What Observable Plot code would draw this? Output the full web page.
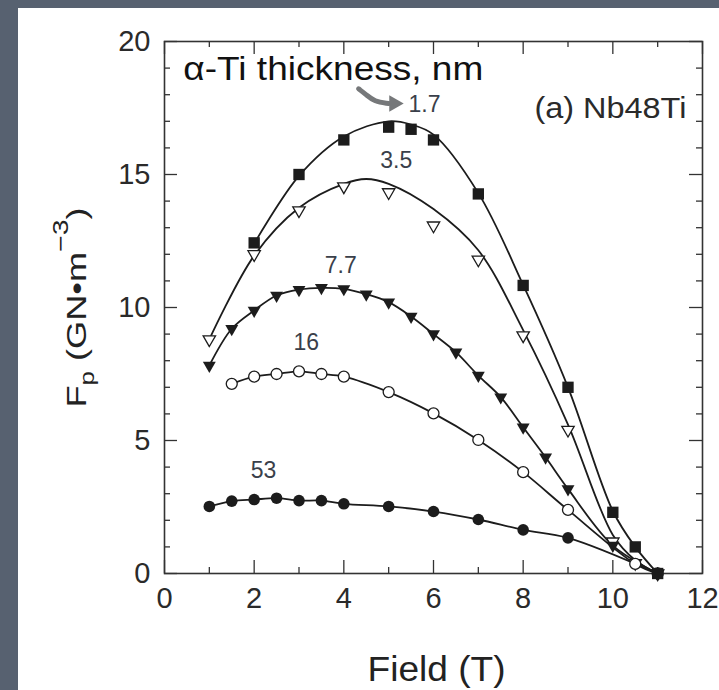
<!DOCTYPE html>
<html>
<head>
<meta charset="utf-8">
<script src="https://cdn.jsdelivr.net/npm/d3@7"></script>
<script src="https://cdn.jsdelivr.net/npm/@observablehq/plot@0.6"></script>
<style>
  html, body { margin: 0; padding: 0; background: #576170; width: 719px; height: 690px; overflow: hidden; }
  #panel { position: absolute; left: 18px; top: 8px; width: 701px; height: 682px; background: #ffffff; }
  #panel svg { display: block; }
</style>
</head>
<body>
<div id="panel"></div>
<script>
// ---- data ----
// α-Ti thickness 1.7 nm (filled squares)
const field17 = [2, 3, 4, 5, 5.5, 6, 7, 8, 9, 10, 10.5, 11];
const fp17    = [12.43, 15.0, 16.3, 16.78, 16.7, 16.3, 14.27, 10.83, 7.0, 2.3, 1.0, 0];
// fitted curve through 1.7 nm data
const fitField17 = [2, 3, 4, 5, 5.5, 6, 7, 8, 9, 10, 10.5, 11];
const fitFp17    = [12.4, 14.95, 16.43, 17.0, 16.88, 16.5, 14.3, 10.85, 7.0, 2.35, 1.0, 0];

// 3.5 nm (open down triangles)
const field35 = [1, 2, 3, 4, 5, 6, 7, 8, 9, 10, 10.5, 11];
const fp35    = [8.8, 12.0, 13.65, 14.55, 14.33, 13.08, 11.8, 8.95, 5.4, 1.2, 0.39, 0];
const fitField35 = [1, 2, 3, 4, 4.5, 5, 6, 7, 8, 9, 10, 10.5, 11];
const fitFp35    = [8.8, 11.95, 13.75, 14.65, 14.83, 14.65, 13.7, 12.15, 9.15, 5.6, 1.45, 0.5, 0];

// 7.7 nm (filled down triangles)
const field77 = [1, 1.5, 2, 2.5, 3, 3.5, 4, 4.5, 5, 5.5, 6, 6.5, 7, 7.5, 8, 8.5, 9, 10, 11];
const fp77    = [7.82, 9.2, 9.89, 10.45, 10.67, 10.74, 10.7, 10.5, 10.2, 9.66, 9.0, 8.32, 7.44, 6.63, 5.5, 4.37, 3.18, 1.05, 0];

// 16 nm (open circles)
const field16 = [1.5, 2, 2.5, 3, 3.5, 4, 5, 6, 7, 8, 9, 10.5, 11];
const fp16    = [7.13, 7.4, 7.5, 7.6, 7.5, 7.4, 6.82, 6.02, 5.02, 3.81, 2.39, 0.36, 0];

// 53 nm (filled circles)
const field53 = [1, 1.5, 2, 2.5, 3, 3.5, 4, 5, 6, 7, 8, 9, 11];
const fp53    = [2.52, 2.72, 2.78, 2.83, 2.74, 2.74, 2.62, 2.52, 2.33, 2.03, 1.64, 1.34, 0];

// series labels
const labelText  = ["1.7", "3.5", "7.7", "16", "53"];
const labelField = [5.80, 5.17, 3.93, 3.16, 2.21];
const labelFp    = [17.63, 15.53, 11.58, 8.68, 3.87];

// annotation arrow: shaft path and head position
const arrowField = [4.33, 4.5, 4.68, 5.0];
const arrowFp    = [18.22, 18.0, 17.74, 17.67];
const arrowHead  = [5.12, 17.67];

// titles
const legendTitle = "α-Ti thickness, nm";
const panelTitle  = "(a) Nb48Ti";
const panelTitleAt = [8.25, 17.48];
const legendTitleAt = [0.42, 18.95];
const xTitle = "Field (T)";
const yTitle = "Fp (GN•m−3)";

// ticks
const xMajor = [0, 2, 4, 6, 8, 10, 12];
const xMinor = [1, 3, 5, 7, 9, 11];
const yMajor = [0, 5, 10, 15, 20];
const yMinor = [1, 2, 3, 4, 6, 7, 8, 9, 11, 12, 13, 14, 16, 17, 18, 19];

// ---- build tables ----
const zip = (xs, ys) => xs.map((x, i) => ({x, y: ys[i]}));
const s17 = zip(field17, fp17), f17 = zip(fitField17, fitFp17);
const s35 = zip(field35, fp35), f35 = zip(fitField35, fitFp35);
const s77 = zip(field77, fp77);
const s16 = zip(field16, fp16);
const s53 = zip(field53, fp53);
const arrowPath = zip(arrowField, arrowFp);
const labels = labelText.map((t, i) => ({t, x: labelField[i], y: labelFp[i]}));

const W = 701, H = 682;
const mL = 146, mR = 17, mT = 33, mB = 117;
const fW = W - mL - mR, fH = H - mT - mB;
const ink = "#1c1c1c";
const lineOpts = {x: "x", y: "y", curve: "catmull-rom", stroke: ink, strokeWidth: 1.8};

const chart = Plot.plot({
  width: W, height: H,
  marginLeft: mL, marginRight: mR, marginTop: mT, marginBottom: mB,
  style: {background: "white", fontFamily: "'Liberation Sans', Arial, Helvetica, sans-serif", color: "#222", overflow: "visible"},
  x: {domain: [0, 12], label: null},
  y: {domain: [0, 20], label: null},
  marks: [
    // inward ticks on all four sides
    Plot.tickX(xMajor, {x: d => d, insetTop: fH - 13, stroke: "#333", strokeWidth: 1.3}),
    Plot.tickX(xMinor, {x: d => d, insetTop: fH - 6, stroke: "#333", strokeWidth: 1.3}),
    Plot.tickX(xMajor, {x: d => d, insetBottom: fH - 13, stroke: "#333", strokeWidth: 1.3}),
    Plot.tickX(xMinor, {x: d => d, insetBottom: fH - 6, stroke: "#333", strokeWidth: 1.3}),
    Plot.tickY(yMajor, {y: d => d, insetRight: fW - 13, stroke: "#333", strokeWidth: 1.3}),
    Plot.tickY(yMinor, {y: d => d, insetRight: fW - 6, stroke: "#333", strokeWidth: 1.3}),
    Plot.tickY(yMajor, {y: d => d, insetLeft: fW - 13, stroke: "#333", strokeWidth: 1.3}),
    Plot.tickY(yMinor, {y: d => d, insetLeft: fW - 6, stroke: "#333", strokeWidth: 1.3}),
    Plot.frame({stroke: "#333", strokeWidth: 1.6}),
    Plot.axisX(xMajor, {tickSize: 0, tickPadding: 14, fontSize: 29, fill: "#2a2a2a", label: null}),
    Plot.axisY(yMajor, {tickSize: 0, tickPadding: 14, fontSize: 29, fill: "#2a2a2a", label: null}),
    // curves
    Plot.line(f17, lineOpts),
    Plot.line(f35, lineOpts),
    Plot.line(s77, lineOpts),
    Plot.line(s16, lineOpts),
    Plot.line(s53, lineOpts),
    // markers
    Plot.dot(s35, {x: "x", y: "y", symbol: "triangle", rotate: 180, r: 4.6, fill: "white", stroke: ink, strokeWidth: 1.3}),
    Plot.dot(s16, {x: "x", y: "y", symbol: "circle", r: 5.5, fill: "white", stroke: ink, strokeWidth: 1.3}),
    Plot.dot(s77, {x: "x", y: "y", symbol: "triangle", rotate: 180, r: 4.8, fill: ink, stroke: "none"}),
    Plot.dot(s53, {x: "x", y: "y", symbol: "circle", r: 5.8, fill: ink, stroke: "none"}),
    Plot.dot(s17, {x: "x", y: "y", symbol: "square", r: 6.4, fill: ink, stroke: "none"}),
    // series labels
    Plot.text(labels, {x: "x", y: "y", text: "t", fontSize: 23, fill: "#3a3f4a"}),
    // annotation arrow
    Plot.line(arrowPath, {x: "x", y: "y", curve: "basis", stroke: "#76787a", strokeWidth: 5, strokeLinecap: "round"}),
    Plot.dot([0], {x: () => arrowHead[0], y: () => arrowHead[1], symbol: "triangle", rotate: 90, r: 6.2, fill: "#76787a", stroke: "none"}),
    // in-frame titles
    Plot.text([legendTitle], {x: () => legendTitleAt[0], y: () => legendTitleAt[1], text: d => d, textAnchor: "start", fontSize: 33, fill: "#111"}),
    Plot.text([panelTitle], {x: () => panelTitleAt[0], y: () => panelTitleAt[1], text: d => d, textAnchor: "start", fontSize: 30, fill: "#2a2a2a"}),
    // axis titles
    Plot.text([xTitle], {frameAnchor: "bottom", text: d => d, dy: 107, dx: 3, lineAnchor: "bottom", fontSize: 35, fill: "#222"}),
    Plot.text([yTitle], {frameAnchor: "left", text: d => d, dx: -79, rotate: -90, lineAnchor: "bottom", fontSize: 28, fill: "#222"})
  ]
});

// ---- text fine-tuning ----
const sel = d3.select(chart);
const byText = t => sel.selectAll("text").filter(function () { return this.textContent === t; });
const stretch = (t, len) => byText(t).attr("textLength", len).attr("lengthAdjust", "spacingAndGlyphs");
stretch(legendTitle, 300);
stretch(panelTitle, 152);
stretch(xTitle, 138);

const yt = byText(yTitle);
yt.text(null);
yt.append("tspan").text("F");
yt.append("tspan").attr("font-size", 20).attr("dy", 8).text("p");
yt.append("tspan").attr("dy", -8).text("\u00a0(GN•m");
yt.append("tspan").attr("font-size", 22).attr("dy", -18).text("−3");
yt.append("tspan").attr("dy", 18).text(")");
yt.attr("text-anchor", "start").attr("x", -100)
  .attr("textLength", 200).attr("lengthAdjust", "spacingAndGlyphs");

document.getElementById("panel").appendChild(chart);
</script>
</body>
</html>
